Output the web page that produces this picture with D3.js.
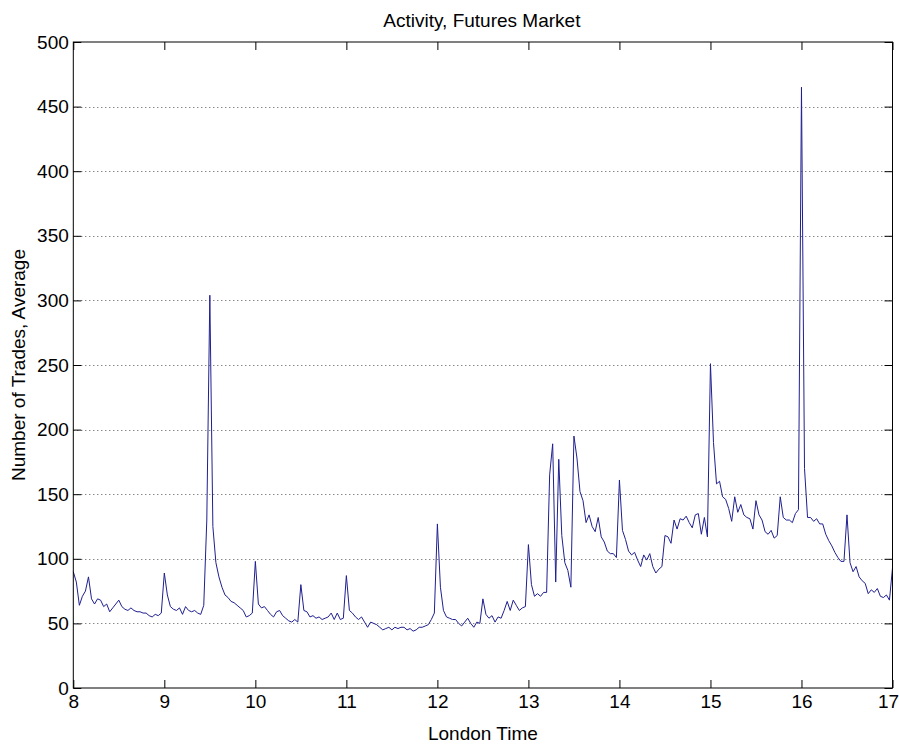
<!DOCTYPE html>
<html>
<head>
<meta charset="utf-8">
<script src="https://cdn.jsdelivr.net/npm/d3@7"></script>
<style>
  body { margin: 0; background: #fff; }
  svg { display: block; }
  text { font-family: "Liberation Sans", Arial, Helvetica, sans-serif; fill: #000; }
</style>
</head>
<body>
<svg id="chart" width="899" height="744"></svg>
<script>
// Average number of trades per 2-minute interval, one array per trading hour
const h08 = [90, 82, 64, 71, 75, 86, 69, 65, 69, 68, 63, 65, 59, 62, 65, 68, 63, 61, 60, 62, 60, 59, 59, 58, 58, 56, 55, 57, 56, 58];
const h09 = [89, 72, 63, 61, 60, 62, 57, 63, 60, 59, 60, 58, 57, 64, 130, 304, 125, 97, 86, 78, 72, 70, 67, 66, 64, 62, 60, 55, 56, 58];
const h10 = [98, 65, 62, 63, 60, 57, 55, 59, 60, 56, 54, 52, 51, 53, 51, 80, 60, 59, 55, 56, 54, 55, 53, 54, 55, 58, 53, 58, 53, 54];
const h11 = [87, 60, 58, 55, 53, 55, 51, 47, 51, 50, 49, 47, 45, 46, 47, 45, 47, 46, 47, 47, 45, 46, 44, 45, 47, 47, 48, 49, 53, 58];
const h12 = [127, 78, 60, 55, 54, 53, 53, 50, 48, 51, 54, 50, 47, 51, 50, 69, 57, 54, 56, 51, 55, 54, 60, 67, 60, 68, 64, 60, 62, 63];
const h13 = [111, 80, 71, 73, 71, 74, 74, 165, 189, 82, 177, 118, 97, 91, 78, 195, 178, 152, 145, 128, 134, 125, 121, 132, 117, 113, 106, 104, 104, 101];
const h14 = [161, 122, 115, 106, 103, 105, 99, 94, 103, 99, 104, 94, 89, 92, 94, 118, 117, 112, 130, 123, 131, 130, 133, 128, 124, 134, 135, 119, 132, 117];
const h15 = [251, 190, 158, 160, 148, 146, 139, 129, 148, 136, 142, 134, 132, 131, 123, 145, 134, 130, 121, 119, 122, 116, 118, 148, 132, 130, 130, 128, 135, 138];
const h16 = [465, 170, 132, 132, 129, 131, 127, 127, 119, 114, 110, 105, 101, 98, 98, 134, 97, 90, 94, 86, 83, 81, 73, 76, 74, 77, 71, 70, 72, 68];
const h17 = [93];

const xTicks = [8, 9, 10, 11, 12, 13, 14, 15, 16, 17];
const yTicks = [0, 50, 100, 150, 200, 250, 300, 350, 400, 450, 500];
const gridLevels = [50, 100, 150, 200, 250, 300, 350, 400, 450];

const titleText = "Activity, Futures Market";
const xLabelText = "London Time";
const yLabelText = "Number of Trades, Average";

const startHour = 8;
const samplesPerHour = 30;

const series = [].concat(h08, h09, h10, h11, h12, h13, h14, h15, h16, h17)
  .map((v, i) => ({ t: startHour + i / samplesPerHour, v }));

const svg = d3.select("#chart");
const plotLeft = 73.3, plotRight = 892.5, plotTop = 42, plotBottom = 688;

const x = d3.scaleLinear().domain([8, 17]).range([plotLeft, plotRight]);
const y = d3.scaleLinear().domain([0, 500]).range([plotBottom, plotTop]);

// dotted horizontal grid
svg.append("g")
  .selectAll("line")
  .data(gridLevels)
  .join("line")
  .attr("x1", plotLeft).attr("x2", plotRight)
  .attr("y1", d => Math.round(y(d)) + 0.5)
  .attr("y2", d => Math.round(y(d)) + 0.5)
  .attr("stroke", "#555")
  .attr("stroke-width", 1)
  .attr("stroke-dasharray", "1,3");

// trade activity trace
svg.append("path")
  .datum(series)
  .attr("fill", "none")
  .attr("stroke", "#1f1f90")
  .attr("stroke-width", 1)
  .attr("stroke-linejoin", "round")
  .attr("d", d3.line().x(d => x(d.t)).y(d => y(d.v)));

// axes with inward ticks on all four sides
const fmt = d3.format("d");
const gx = svg.append("g")
  .attr("transform", `translate(0,${plotBottom})`)
  .call(d3.axisBottom(x).tickValues(xTicks).tickFormat(fmt).tickSizeInner(-8).tickSizeOuter(0).tickPadding(7));
const gy = svg.append("g")
  .attr("transform", `translate(${plotLeft},0)`)
  .call(d3.axisLeft(y).tickValues(yTicks).tickFormat(fmt).tickSizeInner(-8).tickSizeOuter(0).tickPadding(4.5));
const gt = svg.append("g")
  .attr("transform", `translate(0,${plotTop})`)
  .call(d3.axisTop(x).tickValues(xTicks).tickFormat("").tickSizeInner(-8).tickSizeOuter(0));
const gr = svg.append("g")
  .attr("transform", `translate(${plotRight},0)`)
  .call(d3.axisRight(y).tickValues(yTicks).tickFormat("").tickSizeInner(-8).tickSizeOuter(0));

[gx, gy, gt, gr].forEach(g => {
  g.select(".domain").remove();
  g.selectAll(".tick line").attr("stroke", "#000");
  g.selectAll("text").attr("font-size", 19).attr("fill", "#000")
    .attr("font-family", "\"Liberation Sans\", Arial, sans-serif");
});

// keep the last hour label inside the canvas edge
gx.selectAll(".tick text").filter(d => d === 17).attr("dx", -4.5);

// axes box
svg.append("rect")
  .attr("x", plotLeft).attr("y", plotTop)
  .attr("width", plotRight - plotLeft).attr("height", plotBottom - plotTop)
  .attr("fill", "none")
  .attr("stroke", "#000")
  .attr("stroke-width", 1);

// title and axis labels
svg.append("text")
  .attr("x", (plotLeft + plotRight) / 2 - 1).attr("y", 26.5)
  .attr("text-anchor", "middle").attr("font-size", 19)
  .text(titleText);

svg.append("text")
  .attr("x", (plotLeft + plotRight) / 2).attr("y", 740)
  .attr("text-anchor", "middle").attr("font-size", 19)
  .text(xLabelText);

svg.append("text")
  .attr("transform", `translate(25,${(plotTop + plotBottom) / 2}) rotate(-90)`)
  .attr("text-anchor", "middle").attr("font-size", 19)
  .text(yLabelText);
</script>
</body>
</html>
